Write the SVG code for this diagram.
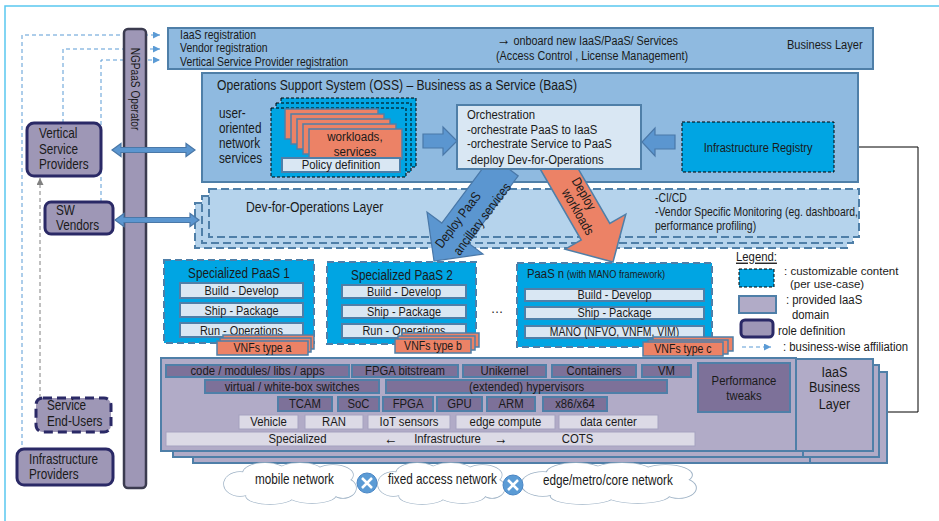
<svg xmlns="http://www.w3.org/2000/svg" width="939" height="521" viewBox="0 0 939 521" font-size="13.5">
<style>
text{font-family:'Liberation Sans',Arial,sans-serif;fill:#1a1a1a}
text:not(.r){transform-box:fill-box;transform-origin:0 50%;transform:scaleX(.84)}
text.c:not(.r){transform-origin:50% 50%}
.c{text-anchor:middle}
.bl{fill:#8fbae0;stroke:#4f7fa8;stroke-width:2}
.cy{fill:#00a5e3;stroke:#000;stroke-width:1;stroke-dasharray:3 2}
.cyb{fill:#00a5e3;stroke:#4f7fa8;stroke-width:2;stroke-dasharray:7 4}
.lt{fill:#d9e7f3;stroke:#4f7fa8;stroke-width:2}
.sal{fill:#ec8266;stroke:#4f7fa8;stroke-width:1.5}
.role{fill:#9e97b6;stroke:#2a2966;stroke-width:3}
.iaas{fill:#b1abc7;stroke:#4f7fa8;stroke-width:2}
.dk{fill:#7d7199;stroke:#4f7fa8;stroke-width:2}
.pl{fill:#dcdae6;stroke:#a5a2c0;stroke-width:1}
.dev{fill:#b5d3ec;stroke:#4f7fa8;stroke-width:2;stroke-dasharray:8 4}
.aff{fill:none;stroke:#5b9bd5;stroke-width:1;stroke-dasharray:4 3}
.blk{fill:#5b96d0;stroke:#4a78a8;stroke-width:1.2}
.cl{fill:#fff;stroke:#9fb3c6;stroke-width:1.5}
.cf{fill:#fff;stroke:none}
</style>
<defs>
<marker id="ab" viewBox="0 0 10 10" refX="10" refY="5" markerWidth="8" markerHeight="7" orient="auto" markerUnits="userSpaceOnUse"><path d="M0,0 L10,5 L0,10 z" fill="#5b9bd5"/></marker>
<marker id="ak" viewBox="0 0 10 10" refX="10" refY="5" markerWidth="8" markerHeight="7" orient="auto" markerUnits="userSpaceOnUse"><path d="M0,0 L10,5 L0,10 z" fill="#000"/></marker>
<marker id="ag" viewBox="0 0 10 10" refX="10" refY="5" markerWidth="8" markerHeight="7" orient="auto" markerUnits="userSpaceOnUse"><path d="M0,0 L10,5 L0,10 z" fill="#808080"/></marker>
<g id="cloud">
<g class="cl"><ellipse cx="18" cy="20" rx="16" ry="12"/><ellipse cx="43" cy="9" rx="22" ry="10"/><ellipse cx="78" cy="7" rx="22" ry="8"/><ellipse cx="111" cy="11" rx="20" ry="10"/><ellipse cx="121" cy="24" rx="13" ry="10"/><ellipse cx="90" cy="31" rx="24" ry="8"/><ellipse cx="48" cy="32" rx="24" ry="8"/></g>
<g class="cf"><ellipse cx="18" cy="20" rx="16" ry="12"/><ellipse cx="43" cy="9" rx="22" ry="10"/><ellipse cx="78" cy="7" rx="22" ry="8"/><ellipse cx="111" cy="11" rx="20" ry="10"/><ellipse cx="121" cy="24" rx="13" ry="10"/><ellipse cx="90" cy="31" rx="24" ry="8"/><ellipse cx="48" cy="32" rx="24" ry="8"/><ellipse cx="67" cy="20" rx="52" ry="14"/></g>
</g>
</defs>
<path d="M5,521 V6 H939" fill="none" stroke="#5ac8f0" stroke-width="1.5"/>

<g id="connectors-back">
<path class="aff" d="M22,445 V35 H160" marker-end="url(#ab)"/>
<path class="aff" d="M63,123 V49 H160" marker-end="url(#ab)"/>
<path class="aff" d="M101,202 V60 H160" marker-end="url(#ab)"/>
<path d="M40,398 V178" fill="none" stroke="#808080" stroke-width="1" stroke-dasharray="4 3" marker-end="url(#ag)"/>
<path d="M879,412 H918 V147 H835" fill="none" stroke="#000" stroke-width="1" marker-end="url(#ak)"/>
</g>

<g id="ngpaas-operator">
<rect x="124" y="29" width="22" height="459" rx="4" fill="#9e97b6" stroke="#3b3b4f" stroke-width="2.5"/>
<text class="c r" transform="translate(130.5,89) rotate(90) scale(0.78,1)" font-size="13">NGPaaS Operator</text>
</g>

<g id="business-layer">
<rect class="bl" x="168" y="28" width="705" height="41"/>
<text x="180" y="39" font-size="12" style="transform:scaleX(.87)">IaaS registration</text>
<text x="180" y="52.5" font-size="12" style="transform:scaleX(.87)">Vendor registration</text>
<text x="180" y="66" font-size="12" style="transform:scaleX(.87)">Vertical Service Provider registration</text>
<text x="497" y="45.5" style="transform:scaleX(.8)"><tspan font-size="17">→</tspan> onboard new IaaS/PaaS/ Services</text>
<text x="496" y="60" style="transform:scaleX(.8)">(Access Control , License Management)</text>
<text x="787" y="49.5" style="transform:scaleX(.82)">Business Layer</text>
</g>

<g id="oss">
<rect class="bl" x="202" y="73" width="656" height="109"/>
<text x="217" y="90.5" font-size="15" style="transform:scaleX(.81)">Operations Support System (OSS) – Business as a Service (BaaS)</text>
<text x="219" y="118" font-size="14">user-</text>
<text x="219" y="133" font-size="14">oriented</text>
<text x="219" y="148" font-size="14">network</text>
<text x="219" y="163" font-size="14">services</text>
</g>

<g id="workloads-stack">
<rect class="cy" x="281" y="98" width="135" height="69"/>
<rect class="cy" x="276" y="103" width="135" height="69"/>
<rect class="cy" x="271" y="108" width="135" height="69"/>
<rect class="sal" x="285" y="109" width="93" height="30"/>
<rect class="sal" x="291" y="114" width="93" height="30"/>
<rect class="sal" x="297" y="119" width="93" height="30"/>
<rect class="sal" x="303" y="124" width="93" height="30"/>
<rect class="sal" x="309" y="129" width="93" height="30"/>
<text class="c" x="355" y="141.5" style="transform:scaleX(.86)">workloads,</text>
<text class="c" x="355" y="156" style="transform:scaleX(.86)">services</text>
<rect class="lt" x="282" y="158" width="118" height="14"/>
<text class="c" x="341" y="169.5">Policy definition</text>
</g>

<g id="dev-for-operations">
<rect class="dev" x="195" y="203" width="652" height="45"/>
<rect class="dev" x="202" y="196" width="651" height="47"/>
<rect class="dev" x="209" y="189" width="650" height="48"/>
<text x="246" y="212" font-size="14.5">Dev-for-Operations Layer</text>
<text x="655" y="202" font-size="13" style="transform:scaleX(.8)">-CI/CD</text>
<text x="655" y="216" font-size="13" style="transform:scaleX(.8)">-Vendor Specific Monitoring  (eg. dashboard,</text>
<text x="655" y="230" font-size="13" style="transform:scaleX(.8)">performance profiling)</text>
</g>

<g id="deploy-paas-arrow">
<polygon class="blk" points="491.8,156.1 518.2,175.9 468.2,242.9 483,254 434,261 427,212 441.8,223.1"/>
<text class="c r" transform="translate(461.6,222.7) rotate(-53) scale(0.84,1)" fill="#1a2540">Deploy PaaS</text>
<text class="c r" transform="translate(485.6,221.7) rotate(-53) scale(0.84,1)" fill="#1a2540">ancillary services</text>
</g>

<g id="deploy-workloads-arrow">
<polygon class="sal" points="538.7,166.4 567.3,149.9 609.8,223.5 625.8,214.2 613,262 565.2,249.2 581.2,240"/>
<text class="c r" transform="translate(580,196) rotate(60) scale(0.84,1)" fill="#1a2540">Deploy</text>
<text class="c r" transform="translate(574,214) rotate(60) scale(0.84,1)" fill="#1a2540">workloads</text>
</g>

<g id="orchestration">
<rect class="lt" x="457" y="105" width="184" height="64"/>
<text x="467" y="119.5">Orchestration</text>
<text x="467" y="134">-orchestrate PaaS to IaaS</text>
<text x="467" y="148.5">-orchestrate Service to PaaS</text>
<text x="467" y="164">-deploy Dev-for-Operations</text>
</g>

<g id="infrastructure-registry">
<rect class="cy" x="682" y="122" width="152" height="50"/>
<text class="c" x="758" y="152" style="transform:scaleX(.82)">Infrastructure Registry</text>
</g>

<g id="paas-1">
<rect class="cyb" x="164" y="260" width="150" height="83"/>
<text class="c" x="239" y="278.5" font-size="14.5" style="transform:scaleX(.81)">Specialized PaaS 1</text>
<rect class="lt" x="180" y="283" width="123" height="15"/>
<rect class="lt" x="180" y="303" width="123" height="14"/>
<rect class="lt" x="180" y="323" width="123" height="14"/>
<text class="c" x="241.5" y="295" font-size="13">Build - Develop</text>
<text class="c" x="241.5" y="315" font-size="13">Ship - Package</text>
<text class="c" x="241.5" y="335" font-size="13">Run - Operations</text>
<rect class="sal" x="223" y="335" width="91" height="14"/>
<rect class="sal" x="220" y="338" width="91" height="14"/>
<rect class="sal" x="217" y="341" width="91" height="14"/>
<text class="c" x="262.5" y="352" font-size="13" style="transform:scaleX(.81)">VNFs type a</text>
</g>

<g id="paas-2">
<rect class="cyb" x="327" y="262" width="149" height="82"/>
<text class="c" x="402" y="280" font-size="14.5" style="transform:scaleX(.81)">Specialized PaaS 2</text>
<rect class="lt" x="342" y="285" width="124" height="13"/>
<rect class="lt" x="342" y="305" width="124" height="13"/>
<rect class="lt" x="342" y="324" width="124" height="14"/>
<text class="c" x="404" y="296" font-size="13">Build - Develop</text>
<text class="c" x="404" y="316" font-size="13">Ship - Package</text>
<text class="c" x="404" y="335.5" font-size="13">Run - Operations</text>
<rect class="sal" x="402" y="333" width="77" height="14"/>
<rect class="sal" x="398" y="336" width="77" height="14"/>
<rect class="sal" x="395" y="339" width="76" height="14"/>
<text class="c" x="433" y="350" font-size="13" style="transform:scaleX(.81)">VNFs type b</text>
</g>

<text class="c" x="497" y="313" font-size="15">…</text>

<g id="paas-n">
<rect class="cyb" x="517" y="263" width="195" height="84"/>
<text x="527" y="278"><tspan font-size="13.5">PaaS n</tspan><tspan font-size="11"> (with MANO framework)</tspan></text>
<rect class="lt" x="525" y="289" width="179" height="12"/>
<rect class="lt" x="525" y="307" width="179" height="12"/>
<rect class="lt" x="525" y="326" width="179" height="12"/>
<text class="c" x="614.5" y="299.5" font-size="13">Build - Develop</text>
<text class="c" x="614.5" y="317.5" font-size="13">Ship - Package</text>
<text class="c" x="614.5" y="336.5" font-size="13" style="transform:scaleX(.8)">MANO (NFVO, VNFM, VIM)</text>
<rect class="sal" x="653" y="337" width="80" height="14"/>
<rect class="sal" x="648" y="340" width="80" height="14"/>
<rect class="sal" x="643" y="342" width="80" height="14"/>
<text class="c" x="683" y="353.5" font-size="13" style="transform:scaleX(.81)">VNFs type c</text>
</g>

<g id="legend">
<text x="736" y="261.5" text-decoration="underline">Legend:</text>
<rect class="cy" x="739" y="269" width="35" height="18"/>
<text x="784" y="275" font-size="11.5" style="transform:none">: customizable content</text>
<text x="790" y="288" font-size="11.5" style="transform:none">(per use-case)</text>
<rect class="iaas" x="739" y="296" width="37" height="17"/>
<text x="786" y="304.5">: provided IaaS</text>
<text x="792" y="319.5">domain</text>
<rect class="role" x="741" y="320" width="32" height="17" rx="4"/>
<text x="778" y="335.5">role definition</text>
<path class="aff" d="M742,347 H771" marker-end="url(#ab)"/>
<text x="783" y="351.5">: business-wise affiliation</text>
</g>

<g id="iaas-infrastructure">
<rect class="iaas" x="193" y="372" width="617" height="91"/>
<rect class="iaas" x="810" y="372" width="77" height="91"/>
<rect class="iaas" x="173" y="365" width="630" height="92"/>
<rect class="iaas" x="803" y="365" width="76" height="92"/>
<rect class="iaas" x="161" y="358" width="635" height="93"/>
<rect class="dk" x="166" y="365" width="183" height="12"/>
<rect class="dk" x="352" y="365" width="106" height="12"/>
<rect class="dk" x="463" y="365" width="83" height="12"/>
<rect class="dk" x="552" y="365" width="84" height="12"/>
<rect class="dk" x="642" y="365" width="49" height="12"/>
<text class="c" x="257.5" y="375.5">code / modules/ libs / apps</text>
<text class="c" x="405" y="375.5">FPGA bitstream</text>
<text class="c" x="504.5" y="375.5">Unikernel</text>
<text class="c" x="594" y="375.5">Containers</text>
<text class="c" x="666.5" y="375.5">VM</text>
<rect class="dk" x="205" y="380" width="174" height="13"/>
<rect class="dk" x="386" y="380" width="281" height="13"/>
<text class="c" x="292" y="391.5">virtual / white-box switches</text>
<text class="c" x="526.5" y="391.5">(extended) hypervisors</text>
<rect class="dk" x="278" y="397" width="54" height="14"/>
<rect class="dk" x="338" y="397" width="41" height="14"/>
<rect class="dk" x="383" y="397" width="50" height="14"/>
<rect class="dk" x="437" y="397" width="45" height="14"/>
<rect class="dk" x="487" y="397" width="48" height="14"/>
<rect class="dk" x="543" y="397" width="64" height="14"/>
<text class="c" x="305" y="408.5">TCAM</text>
<text class="c" x="358.5" y="408.5">SoC</text>
<text class="c" x="408" y="408.5">FPGA</text>
<text class="c" x="459.5" y="408.5">GPU</text>
<text class="c" x="511" y="408.5">ARM</text>
<text class="c" x="575" y="408.5">x86/x64</text>
<rect class="pl" x="239" y="415" width="59" height="14"/>
<rect class="pl" x="305" y="415" width="58" height="14"/>
<rect class="pl" x="368" y="415" width="82" height="14"/>
<rect class="pl" x="456" y="415" width="99" height="14"/>
<rect class="pl" x="559" y="415" width="99" height="14"/>
<text class="c" x="268.5" y="426.5">Vehicle</text>
<text class="c" x="334" y="426.5">RAN</text>
<text class="c" x="409" y="426.5">IoT sensors</text>
<text class="c" x="505.5" y="426.5">edge compute</text>
<text class="c" x="608.5" y="426.5">data center</text>
<rect class="pl" x="166" y="432" width="529" height="14"/>
<text class="c" x="297.5" y="443.5">Specialized</text>
<text class="c" x="391" y="444" font-size="16">←</text>
<text class="c" x="447.5" y="443.5">Infrastructure</text>
<text class="c" x="501" y="444" font-size="16">→</text>
<text class="c" x="577.5" y="443.5">COTS</text>
</g>

<g id="performance-tweaks">
<rect class="dk" x="698" y="363" width="92" height="49"/>
<text class="c" x="744" y="385.5">Performance</text>
<text class="c" x="744" y="400.5">tweaks</text>
</g>

<g id="iaas-business-layer">
<rect class="iaas" x="796" y="359" width="77" height="92"/>
<text class="c" x="834.5" y="377" font-size="15">IaaS</text>
<text class="c" x="834.5" y="392.5" font-size="15">Business</text>
<text class="c" x="834.5" y="409" font-size="15">Layer</text>
</g>

<g id="vertical-service-providers">
<rect class="role" x="27" y="123" width="74" height="53" rx="7"/>
<text x="39" y="138" font-size="14">Vertical</text>
<text x="39" y="154" font-size="14">Service</text>
<text x="39" y="169" font-size="14">Providers</text>
</g>
<g id="sw-vendors">
<rect class="role" x="45" y="202" width="68" height="32" rx="6"/>
<text x="56" y="215.5" font-size="14">SW</text>
<text x="56" y="230" font-size="14">Vendors</text>
</g>
<g id="service-end-users">
<rect x="36" y="398" width="75" height="34" rx="7" fill="#9e97b6" stroke="#2a2966" stroke-width="3" stroke-dasharray="9 5"/>
<text x="47" y="410.5" font-size="14">Service</text>
<text x="47" y="426.5" font-size="14">End-Users</text>
</g>
<g id="infrastructure-providers">
<rect class="role" x="17" y="449" width="96" height="36" rx="7"/>
<text x="29" y="464.5" font-size="14">Infrastructure</text>
<text x="29" y="479.5" font-size="14">Providers</text>
</g>

<g id="networks">
<use href="#cloud" transform="translate(222,464)"/>
<use href="#cloud" transform="translate(376,464) scale(0.96,1)"/>
<use href="#cloud" transform="translate(519,464) scale(1.32,1)"/>
<text x="255" y="484.5" font-size="14">mobile network</text>
<text x="388" y="484.5" font-size="14">fixed access network</text>
<text x="543" y="485.5" font-size="14">edge/metro/core network</text>
<g stroke-width="2.5">
<circle cx="367" cy="483" r="10" fill="#5b9bd5" stroke="#4a86c5" stroke-width="1"/>
<path d="M362,478 L372,488 M372,478 L362,488" stroke="#fff"/>
<circle cx="513" cy="485" r="10" fill="#5b9bd5" stroke="#4a86c5" stroke-width="1"/>
<path d="M508,480 L518,490 M518,480 L508,490" stroke="#fff"/>
</g>
</g>

<g id="connectors-front">
<path class="blk" d="M112,150 L121,143.5 V147.5 H186 V143.5 L195,150 L186,156.5 V152.5 H121 V156.5 Z"/>
<path class="blk" d="M115,220 L124,213.5 V217.5 H190 V213.5 L199,220 L190,226.5 V222.5 H124 V226.5 Z"/>
<path class="blk" d="M423,134 H443 V127 L457,141 L443,155 V148 H423 Z"/>
<path class="blk" d="M675,135 H655 V128 L642,142 L655,156 V149 H675 Z"/>
</g>
</svg>
